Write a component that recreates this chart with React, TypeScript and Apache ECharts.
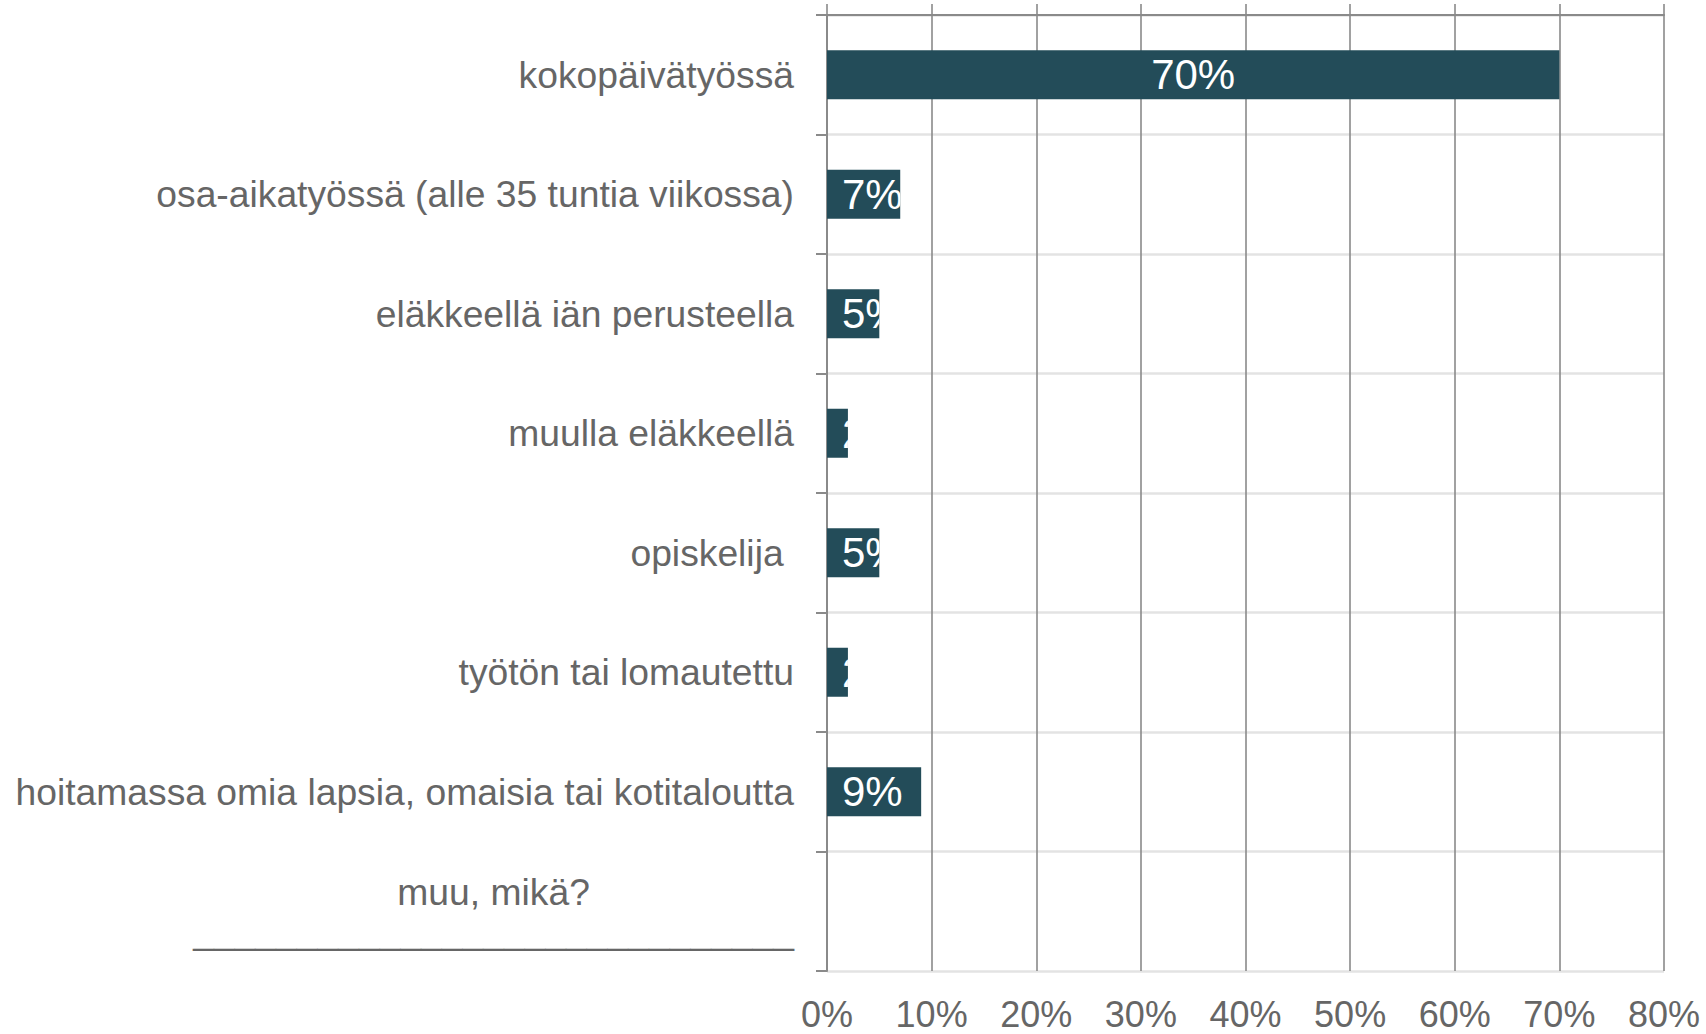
import React, { useEffect, useRef } from "react";
import * as echarts from "echarts";

const categories = [
  "kokopäivätyössä",
  "osa-aikatyössä (alle 35 tuntia viikossa)",
  "eläkkeellä iän perusteella",
  "muulla eläkkeellä",
  "opiskelija ",
  "työtön tai lomautettu",
  "hoitamassa omia lapsia, omaisia tai kotitaloutta",
  "muu, mikä?\n_____________________________",
];
const values = [70, 7, 5, 2, 5, 2, 9, 0];
const xTicks = [0, 10, 20, 30, 40, 50, 60, 70, 80];

const FONT = "'Liberation Sans', Arial, Helvetica, sans-serif";
const BAR_COLOR = "#234c59";
const BAR_H = 49;

export default function App() {
  const ref = useRef<HTMLDivElement>(null);
  useEffect(() => {
    if (!ref.current) return;
    const chart = echarts.init(ref.current, null, { renderer: "svg" });
    const xMin = xTicks[0];
    const xMax = xTicks[xTicks.length - 1];
    const xInt = xTicks[1] - xTicks[0];
    chart.setOption({
      animation: false,
      backgroundColor: "#ffffff",
      grid: { left: 827, right: 42, top: 15, bottom: 63, containLabel: false },
      xAxis: [
        {
          type: "value",
          position: "bottom",
          min: xMin,
          max: xMax,
          interval: xInt,
          axisLine: { show: false },
          axisTick: { show: false },
          axisLabel: {
            formatter: "{value}%",
            fontSize: 36,
            lineHeight: 36,
            fontFamily: FONT,
            color: "#666666",
            margin: 25,
          },
          splitLine: { show: true, lineStyle: { color: "#8a8a8a", width: 1.6 } },
        },
        {
          type: "value",
          position: "top",
          min: xMin,
          max: xMax,
          interval: xInt,
          axisLine: { show: true, lineStyle: { color: "#8a8a8a", width: 2 } },
          axisTick: { show: true, inside: false, length: 11, lineStyle: { color: "#8a8a8a", width: 1.6 } },
          axisLabel: { show: false },
          splitLine: { show: false },
        },
      ],
      yAxis: {
        type: "category",
        inverse: true,
        data: categories,
        axisLine: { show: true, lineStyle: { color: "#8a8a8a", width: 2 } },
        axisTick: { show: true, inside: false, length: 11, lineStyle: { color: "#8a8a8a", width: 2 } },
        splitLine: { show: true, lineStyle: { color: "#e3e3e3", width: 2.5 } },
        axisLabel: {
          fontSize: 37.25,
          fontFamily: FONT,
          color: "#666666",
          margin: 33,
          formatter: (v: string) => {
            const lines = v.split("\n");
            if (lines.length > 1) {
              return lines.map((l) => `{c|${l}}`).join("\n");
            }
            return v;
          },
          rich: {
            c: {
              align: "center",
              fontSize: 37.25,
              fontFamily: FONT,
              color: "#666666",
              lineHeight: 39,
            },
          },
        },
      },
      series: [
        {
          type: "bar",
          xAxisIndex: 0,
          yAxisIndex: 0,
          data: values,
          barWidth: BAR_H,
          itemStyle: { color: BAR_COLOR },
          label: { show: false },
        },
        {
          type: "custom",
          xAxisIndex: 0,
          yAxisIndex: 0,
          z: 10,
          data: values.map((v, i) => [v, i]),
          renderItem: (params: any, api: any) => {
            const v = api.value(0);
            const idx = api.value(1);
            if (!v) return;
            const s = api.coord([0, idx]);
            const e = api.coord([v, idx]);
            const w = e[0] - s[0];
            const yc = s[1];
            const wide = w > 120;
            const tx = wide ? s[0] + w / 2 : s[0] + 15;
            return {
              type: "text",
              x: tx,
              y: yc,
              clipPath: {
                type: "rect",
                shape: { x: s[0] - tx, y: -BAR_H / 2, width: w, height: BAR_H },
              },
              style: {
                text: `${v}%`,
                fill: "#ffffff",
                fontSize: 42,
                fontFamily: FONT,
                align: wide ? "center" : "left",
                verticalAlign: "middle",
              },
            };
          },
        },
      ],
    });
    return () => chart.dispose();
  }, []);
  return (
    <div
      ref={ref}
      style={{ position: "fixed", left: 0, top: 0, width: 1706, height: 1034, background: "#fff" }}
    />
  );
}
